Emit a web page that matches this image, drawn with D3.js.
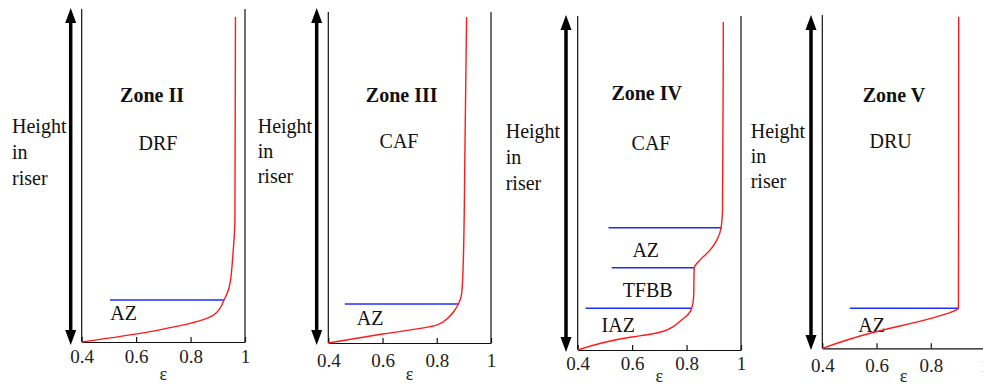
<!DOCTYPE html>
<html>
<head>
<meta charset="utf-8">
<script src="https://cdn.jsdelivr.net/npm/d3@7"></script>
</head>
<body style="margin:0">
<svg id="chart" width="983" height="385" font-family="Liberation Serif"></svg>
<script>
// ============= Data =============

const zoneTitles = ["Zone II", "Zone III", "Zone IV", "Zone V"];
const regimeLabels = ["DRF", "CAF", "CAF", "DRU"];
const heightLabel = ["Height", "in", "riser"];
const epsTicks = [0.4, 0.6, 0.8, 1];
const epsTickLabels = ["0.4", "0.6", "0.8", "1"];

// voidage profiles: [epsilon, height (% of riser)]
const zone2Profile = [
  [0.4, 0], [0.651, 3.1], [0.724, 4.3], [0.798, 5.6], [0.847, 6.7], [0.884, 8.1],
  [0.908, 10.1], [0.923, 12.6], [0.939, 15.6], [0.947, 18.6], [0.951, 21.6],
  [0.956, 26.7], [0.963, 36.6], [0.965, 97.6],
];
const zone3Profile = [
  [0.4, 0], [0.6, 2.7], [0.8, 5.4], [0.842, 7.6], [0.867, 10.0], [0.88, 11.8],
  [0.892, 15.1], [0.898, 25.1], [0.904, 59.2], [0.91, 98.5],
];
const zone4Profile = [
  [0.4, 0], [0.598, 3.9], [0.666, 4.7], [0.715, 5.6], [0.751, 7.0],
  [0.782, 9.0], [0.806, 10.7], [0.819, 12.5], [0.826, 16.0], [0.828, 24.6],
  [0.849, 26.9], [0.886, 29.9], [0.911, 32.9], [0.927, 36.6], [0.932, 41.9], [0.935, 98.2],
];
const zone5Profile = [
  [0.4, 0], [0.576, 4.5], [0.65, 6.0], [0.724, 7.4], [0.797, 8.9], [0.859, 10.4],
  [0.902, 12.0], [0.903, 99.5],
];

// section boundaries: [start epsilon, end epsilon, height]
const zone2Bounds = [[0.504, 0.923, 12.6]];
const zone3Bounds = [[0.461, 0.88, 11.8]];
const zone4Bounds = [[0.513, 0.927, 36.6], [0.525, 0.828, 24.6], [0.429, 0.819, 12.5]];
const zone5Bounds = [[0.502, 0.902, 12.0]];

// section names: [label, epsilon, height, anchor]
const zone2Sections = [["AZ", 0.505, 6.6, "start"]];
const zone3Sections = [["AZ", 0.505, 5.4, "start"]];
const zone4Sections = [["AZ", 0.65, 27.9, "middle"], ["TFBB", 0.657, 16.0, "middle"], ["IAZ", 0.549, 5.5, "middle"]];
const zone5Sections = [["AZ", 0.582, 5.0, "middle"]];

const profiles = [zone2Profile, zone3Profile, zone4Profile, zone5Profile];
const bounds = [zone2Bounds, zone3Bounds, zone4Bounds, zone5Bounds];
const sections = [zone2Sections, zone3Sections, zone4Sections, zone5Sections];

// ============= Layout =============

const PANELS = [
  { left: 81.7, right: 245, top: 9, bottom: 342, arrowX: 70.7, arrowTop: 8, arrowBottom: 345,
    labelX: 12, labelY: [133, 159, 185], titleX: 152, titleY: 102, regimeX: 158, regimeY: 150,
    tickY: 363, epsY: 380 },
  { left: 328.3, right: 491, top: 12, bottom: 343, arrowX: 316.7, arrowTop: 8, arrowBottom: 345,
    labelX: 257.7, labelY: [133, 158, 183], titleX: 401.7, titleY: 101.7, regimeX: 399, regimeY: 148,
    tickY: 366.7, epsY: 380 },
  { left: 577.7, right: 741, top: 16, bottom: 350, arrowX: 566, arrowTop: 15, arrowBottom: 352,
    labelX: 505.7, labelY: [138, 164, 190], titleX: 646.7, titleY: 100, regimeX: 651, regimeY: 150,
    tickY: 370, epsY: 382 },
  { left: 822.3, right: 985, top: 15, bottom: 348.3, arrowX: 811, arrowTop: 15, arrowBottom: 350,
    labelX: 750.7, labelY: [138, 163, 188], titleX: 894, titleY: 101.7, regimeX: 890.7, regimeY: 148.3,
    tickY: 371.7, epsY: 382 },
];

const FONT = "Liberation Serif";
const TEXT_COLOR = "#111";
const RED = "#ff1a1a";
const BLUE = "#1f2cff";

const svg = d3.select("#chart");

const line = d3.line().curve(d3.curveMonotoneY);

// appends a serif text label
const addText = (g, x, y, content, size, opts = {}) =>
  g.append("text")
    .attr("x", x)
    .attr("y", y)
    .attr("font-family", FONT)
    .attr("font-size", size)
    .attr("font-weight", opts.weight || null)
    .attr("text-anchor", opts.anchor || "start")
    .attr("fill", opts.color || TEXT_COLOR)
    .text(content);

PANELS.forEach((p, i) => {
  const g = svg.append("g");
  const x = d3.scaleLinear().domain([0.4, 1]).range([p.left, p.right]);
  const y = d3.scaleLinear().domain([0, 100]).range([p.bottom, p.top]);

  // frame: left and right verticals
  [p.left, p.right].forEach((xx) => {
    g.append("line")
      .attr("x1", xx).attr("x2", xx)
      .attr("y1", p.top).attr("y2", p.bottom)
      .attr("stroke", "#111").attr("stroke-width", 1.2);
  });

  // epsilon axis
  const axis = g.append("g")
    .attr("transform", `translate(0,${p.bottom})`)
    .call(d3.axisBottom(x)
      .tickValues(epsTicks)
      .tickFormat((d, k) => epsTickLabels[k])
      .tickSizeInner(-5)
      .tickSizeOuter(0)
      .tickPadding(0));
  axis.attr("font-family", FONT).attr("font-size", 19);
  axis.select(".domain").attr("stroke", "#111").attr("stroke-width", 1.2);
  axis.selectAll(".tick line").attr("stroke", "#111").attr("stroke-width", 1.2);
  axis.selectAll("text")
    .attr("dy", null)
    .attr("fill", "#222")
    .attr("font-family", FONT)
    .attr("y", p.tickY - p.bottom);

  addText(g, (p.left + p.right) / 2, p.epsY, "ε", 18, { anchor: "middle", color: "#222" });

  // double-headed height arrow
  const head = 15, half = 5.5;
  g.append("line")
    .attr("x1", p.arrowX).attr("x2", p.arrowX)
    .attr("y1", p.arrowTop + head - 2).attr("y2", p.arrowBottom - head + 2)
    .attr("stroke", "#000").attr("stroke-width", 3.5);
  g.append("path")
    .attr("d", `M${p.arrowX},${p.arrowTop} L${p.arrowX - half},${p.arrowTop + head} L${p.arrowX + half},${p.arrowTop + head} Z`)
    .attr("fill", "#000");
  g.append("path")
    .attr("d", `M${p.arrowX},${p.arrowBottom} L${p.arrowX - half},${p.arrowBottom - head} L${p.arrowX + half},${p.arrowBottom - head} Z`)
    .attr("fill", "#000");

  // "Height in riser"
  heightLabel.forEach((t, k) => addText(g, p.labelX, p.labelY[k], t, 20));

  addText(g, p.titleX, p.titleY, zoneTitles[i], 20, { anchor: "middle", weight: "bold" });
  addText(g, p.regimeX, p.regimeY, regimeLabels[i], 20, { anchor: "middle" });

  // section boundaries
  g.selectAll(".bound")
    .data(bounds[i])
    .enter()
    .append("line")
    .attr("class", "bound")
    .attr("x1", (d) => x(d[0]))
    .attr("x2", (d) => x(d[1]))
    .attr("y1", (d) => y(d[2]))
    .attr("y2", (d) => y(d[2]))
    .attr("stroke", BLUE)
    .attr("stroke-width", 1.5);

  sections[i].forEach((d) => addText(g, x(d[1]), y(d[2]), d[0], 20, { anchor: d[3] }));

  // voidage profile
  g.append("path")
    .datum(profiles[i])
    .attr("d", line.x((d) => x(d[0])).y((d) => y(d[1])))
    .attr("fill", "none")
    .attr("stroke", RED)
    .attr("stroke-width", 1.4);
});
</script>
</body>
</html>
